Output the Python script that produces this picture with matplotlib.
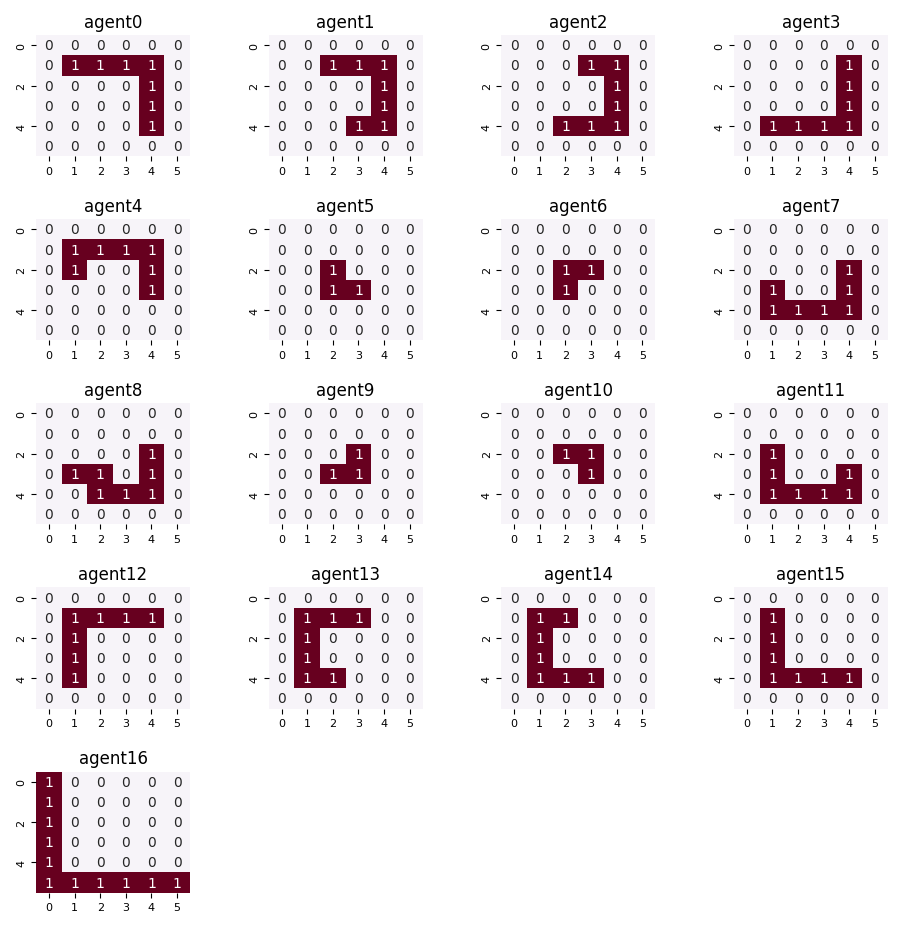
import numpy as np
import matplotlib
matplotlib.use("Agg")
import matplotlib.pyplot as plt
import seaborn as sns

# 6x6 occupancy grids, one per agent
agent0 = [[0,0,0,0,0,0],[0,1,1,1,1,0],[0,0,0,0,1,0],[0,0,0,0,1,0],[0,0,0,0,1,0],[0,0,0,0,0,0]]
agent1 = [[0,0,0,0,0,0],[0,0,1,1,1,0],[0,0,0,0,1,0],[0,0,0,0,1,0],[0,0,0,1,1,0],[0,0,0,0,0,0]]
agent2 = [[0,0,0,0,0,0],[0,0,0,1,1,0],[0,0,0,0,1,0],[0,0,0,0,1,0],[0,0,1,1,1,0],[0,0,0,0,0,0]]
agent3 = [[0,0,0,0,0,0],[0,0,0,0,1,0],[0,0,0,0,1,0],[0,0,0,0,1,0],[0,1,1,1,1,0],[0,0,0,0,0,0]]
agent4 = [[0,0,0,0,0,0],[0,1,1,1,1,0],[0,1,0,0,1,0],[0,0,0,0,1,0],[0,0,0,0,0,0],[0,0,0,0,0,0]]
agent5 = [[0,0,0,0,0,0],[0,0,0,0,0,0],[0,0,1,0,0,0],[0,0,1,1,0,0],[0,0,0,0,0,0],[0,0,0,0,0,0]]
agent6 = [[0,0,0,0,0,0],[0,0,0,0,0,0],[0,0,1,1,0,0],[0,0,1,0,0,0],[0,0,0,0,0,0],[0,0,0,0,0,0]]
agent7 = [[0,0,0,0,0,0],[0,0,0,0,0,0],[0,0,0,0,1,0],[0,1,0,0,1,0],[0,1,1,1,1,0],[0,0,0,0,0,0]]
agent8 = [[0,0,0,0,0,0],[0,0,0,0,0,0],[0,0,0,0,1,0],[0,1,1,0,1,0],[0,0,1,1,1,0],[0,0,0,0,0,0]]
agent9 = [[0,0,0,0,0,0],[0,0,0,0,0,0],[0,0,0,1,0,0],[0,0,1,1,0,0],[0,0,0,0,0,0],[0,0,0,0,0,0]]
agent10 = [[0,0,0,0,0,0],[0,0,0,0,0,0],[0,0,1,1,0,0],[0,0,0,1,0,0],[0,0,0,0,0,0],[0,0,0,0,0,0]]
agent11 = [[0,0,0,0,0,0],[0,0,0,0,0,0],[0,1,0,0,0,0],[0,1,0,0,1,0],[0,1,1,1,1,0],[0,0,0,0,0,0]]
agent12 = [[0,0,0,0,0,0],[0,1,1,1,1,0],[0,1,0,0,0,0],[0,1,0,0,0,0],[0,1,0,0,0,0],[0,0,0,0,0,0]]
agent13 = [[0,0,0,0,0,0],[0,1,1,1,0,0],[0,1,0,0,0,0],[0,1,0,0,0,0],[0,1,1,0,0,0],[0,0,0,0,0,0]]
agent14 = [[0,0,0,0,0,0],[0,1,1,0,0,0],[0,1,0,0,0,0],[0,1,0,0,0,0],[0,1,1,1,0,0],[0,0,0,0,0,0]]
agent15 = [[0,0,0,0,0,0],[0,1,0,0,0,0],[0,1,0,0,0,0],[0,1,0,0,0,0],[0,1,1,1,1,0],[0,0,0,0,0,0]]
agent16 = [[1,0,0,0,0,0],[1,0,0,0,0,0],[1,0,0,0,0,0],[1,0,0,0,0,0],[1,0,0,0,0,0],[1,1,1,1,1,1]]

grids = [agent0, agent1, agent2, agent3, agent4, agent5, agent6, agent7, agent8,
         agent9, agent10, agent11, agent12, agent13, agent14, agent15, agent16]
names = [f"agent{i}" for i in range(len(grids))]

fig, axes = plt.subplots(5, 4, figsize=(9.04, 9.28), dpi=100)
fig.subplots_adjust(left=0.040, right=0.982, top=0.961, bottom=0.037,
                    wspace=0.513, hspace=0.52)

for i, ax in enumerate(axes.flat):
    if i >= len(grids):
        ax.axis('off')
        continue
    sns.heatmap(np.array(grids[i]), ax=ax, cmap='PuRd', vmin=0, vmax=1,
                annot=True, fmt='d', cbar=False, annot_kws={'fontsize': 10})
    ax.set_title(names[i], fontsize=12)
    ax.set_yticks([0.5, 2.5, 4.5])
    ax.set_yticklabels(['0', '2', '4'], fontsize=8, rotation=90, va='center')
    ax.set_xticks(np.arange(6) + 0.5)
    ax.set_xticklabels([str(k) for k in range(6)], fontsize=8, rotation=0)

fig.savefig('out.png', dpi=100)
